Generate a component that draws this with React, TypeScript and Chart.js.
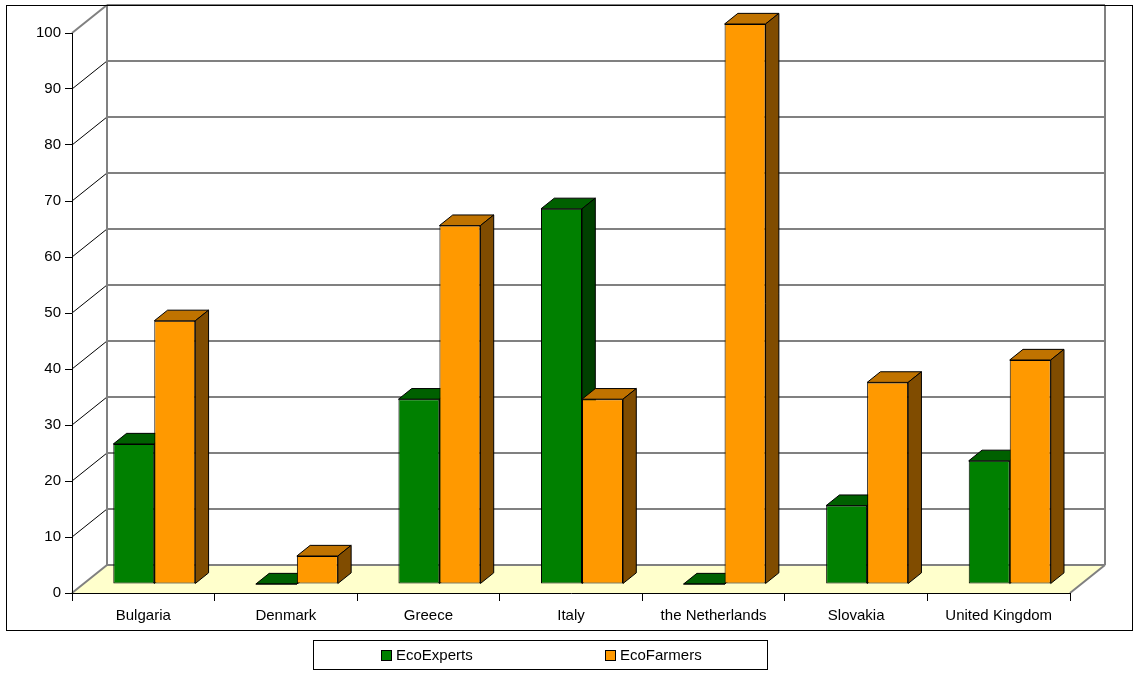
import { useEffect, useRef } from "react";
import { Chart, registerables } from "chart.js";

Chart.register(...registerables);

// Data
const countries = [
  "Bulgaria",
  "Denmark",
  "Greece",
  "Italy",
  "the Netherlands",
  "Slovakia",
  "United Kingdom",
];
const ecoExperts = [25, 0, 33, 67, 0, 14, 22];
const ecoFarmers = [47, 5, 64, 33, 100, 36, 40];
const yMin = 0;
const yMax = 100;
const yStep = 10;

const seriesLabels = ["EcoExperts", "EcoFarmers"];
const seriesFront = ["#008000", "#FF9900"];
const seriesTop = ["#006000", "#C07300"];
const seriesSide = ["#004000", "#804C00"];

// Look & layout
const FONT = "'Liberation Sans', Arial, Helvetica, sans-serif";
const FONT_SIZE = 15;
const W = 1135;
const H = 679;
const DEPTH = { x: 35, y: -28 }; // oblique depth of the plot box
const BAR_DEPTH = 0.38; // fraction of the box depth a bar occupies
const FLOOR_COLOR = "#FFFFCC";
const GRID_COLOR = "#808080";
const FRAME = { x: 6, y: 5, w: 1126, h: 625 };
const LEGEND = { x: 313, y: 640, w: 454, h: 29 };

const barShift = {
  x: Math.round((DEPTH.x * (1 - BAR_DEPTH)) / 2),
  y: Math.round((DEPTH.y * (1 - BAR_DEPTH)) / 2),
};
const barDepth = { x: DEPTH.x * BAR_DEPTH, y: DEPTH.y * BAR_DEPTH };

function polygon(
  ctx: CanvasRenderingContext2D,
  pts: number[][],
  fill: string | null,
  stroke: string | null,
  lw = 1
) {
  ctx.beginPath();
  ctx.moveTo(pts[0][0], pts[0][1]);
  for (let i = 1; i < pts.length; i++) ctx.lineTo(pts[i][0], pts[i][1]);
  ctx.closePath();
  if (fill) {
    ctx.fillStyle = fill;
    ctx.fill();
  }
  if (stroke) {
    ctx.strokeStyle = stroke;
    ctx.lineWidth = lw;
    ctx.stroke();
  }
}

function line(
  ctx: CanvasRenderingContext2D,
  x1: number,
  y1: number,
  x2: number,
  y2: number,
  color: string,
  lw: number
) {
  ctx.beginPath();
  ctx.moveTo(x1, y1);
  ctx.lineTo(x2, y2);
  ctx.strokeStyle = color;
  ctx.lineWidth = lw;
  ctx.stroke();
}

// Top and right faces of each bar of one dataset
function drawFaces(ctx: CanvasRenderingContext2D, meta: any, i: number) {
  const bx = barDepth.x;
  const by = barDepth.y;
  ctx.save();
  ctx.lineJoin = "miter";
  meta.data.forEach((el: any) => {
    const p = el.getProps(["x", "y", "base", "width"], true);
    const l = p.x - p.width / 2;
    const r = p.x + p.width / 2;
    const top = Math.min(p.y, p.base);
    const bot = Math.max(p.y, p.base);
    polygon(
      ctx,
      [
        [l, top],
        [r, top],
        [r + bx, top + by],
        [l + bx, top + by],
      ],
      seriesTop[i],
      "#000"
    );
    polygon(
      ctx,
      [
        [r, top],
        [r + bx, top + by],
        [r + bx, bot + by],
        [r, bot],
      ],
      seriesSide[i],
      "#000"
    );
    if (bot - top < 1) line(ctx, l, bot, r, bot, "#000", 1);
  });
  ctx.restore();
}

// Walls, floor, gridlines, 3D bars, legend and outer frame
const box3d = {
  id: "box3d",
  beforeDraw(chart: any) {
    const { ctx, chartArea } = chart;
    const { left, right, bottom } = chartArea;
    const ys = chart.scales.y;
    const dx = DEPTH.x;
    const dy = DEPTH.y;
    ctx.save();
    ctx.fillStyle = "#ffffff";
    ctx.fillRect(0, 0, W, H);

    // floor
    polygon(
      ctx,
      [
        [left, bottom],
        [right, bottom],
        [right + dx, bottom + dy],
        [left + dx, bottom + dy],
      ],
      FLOOR_COLOR,
      null
    );

    // back wall gridlines and side wall diagonals
    const ticks = ys.ticks.map((t: any) => t.value);
    ticks.forEach((v: number) => {
      const yy = Math.round(ys.getPixelForValue(v));
      const edge = v === yMin || v === yMax;
      line(ctx, left + dx, yy + dy, right + dx, yy + dy, GRID_COLOR, 2);
      line(ctx, left, yy, left + dx, yy + dy, edge ? GRID_COLOR : "#000", edge ? 2 : 1);
    });

    const yTop = Math.round(ys.getPixelForValue(yMax)) + dy;
    const yBot = Math.round(ys.getPixelForValue(yMin)) + dy;
    line(ctx, left + dx, yTop, left + dx, yBot, GRID_COLOR, 2);
    line(ctx, right + dx, yTop, right + dx, yBot, GRID_COLOR, 2);
    line(ctx, right, bottom, right + dx, bottom + dy, GRID_COLOR, 2);
    ctx.restore();
  },
  // bars are painted below, front to back in dataset order
  beforeDatasetDraw() {
    return false;
  },
  afterDatasetsDraw(chart: any) {
    const ctx = chart.ctx;
    ctx.save();
    ctx.translate(barShift.x, barShift.y);
    chart.data.datasets.forEach((_d: any, i: number) => {
      const meta = chart.getDatasetMeta(i);
      meta.data.forEach((el: any) => el.draw(ctx));
      drawFaces(ctx, meta, i);
    });
    ctx.restore();
  },
  afterDraw(chart: any) {
    const ctx = chart.ctx;
    ctx.save();
    // legend
    ctx.strokeStyle = "#000";
    ctx.lineWidth = 1;
    ctx.strokeRect(LEGEND.x + 0.5, LEGEND.y + 0.5, LEGEND.w, LEGEND.h);
    ctx.font = `${FONT_SIZE}px ${FONT}`;
    ctx.textBaseline = "middle";
    ctx.textAlign = "left";
    const ds = chart.data.datasets;
    const col = LEGEND.w / ds.length;
    const cy = LEGEND.y + LEGEND.h / 2 + 0.5;
    const sq = 11;
    ds.forEach((d: any) => {
      const i = ds.indexOf(d);
      const tw = ctx.measureText(d.label).width;
      const iw = sq + 4 + tw;
      const sx = Math.round(LEGEND.x + col * i + (col - iw) / 2);
      const sy = Math.round(cy - sq / 2);
      ctx.fillStyle = d.backgroundColor;
      ctx.fillRect(sx, sy, sq, sq);
      ctx.strokeStyle = "#000";
      ctx.strokeRect(sx + 0.5, sy + 0.5, sq - 1, sq - 1);
      ctx.fillStyle = "#000";
      ctx.fillText(d.label, sx + sq + 4, cy + 1);
    });
    // outer frame
    ctx.strokeStyle = "#000";
    ctx.strokeRect(FRAME.x + 0.5, FRAME.y + 0.5, FRAME.w, FRAME.h);
    ctx.restore();
  },
};

export default function App() {
  const ref = useRef<HTMLCanvasElement>(null);

  useEffect(() => {
    document.body.style.margin = "0";
    const canvas = ref.current;
    if (!canvas) return;
    const makeSet = (i: number, data: number[]) => ({
      label: seriesLabels[i],
      data,
      backgroundColor: seriesFront[i],
      borderColor: "#000",
      borderWidth: 1,
      borderSkipped: false as const,
      categoryPercentage: 0.575,
      barPercentage: 1,
      clip: false as any,
    });
    const chart = new Chart(canvas, {
      type: "bar",
      data: {
        labels: countries,
        datasets: [makeSet(0, ecoExperts), makeSet(1, ecoFarmers)],
      },
      options: {
        responsive: false,
        animation: false,
        devicePixelRatio: 1,
        events: [],
        layout: { padding: { left: 0, right: 65, top: 33, bottom: 56 } },
        plugins: {
          legend: { display: false },
          tooltip: { enabled: false },
          title: { display: false },
        },
        scales: {
          x: {
            type: "category",
            offset: true,
            grid: {
              offset: true,
              drawOnChartArea: false,
              drawTicks: true,
              tickLength: 8,
              tickColor: "#000",
              tickWidth: 1,
            },
            border: { display: true, color: "#000", width: 1 },
            ticks: {
              color: "#000",
              padding: 6,
              maxRotation: 0,
              autoSkip: false,
              font: { family: FONT, size: FONT_SIZE },
            },
            afterFit(scale: any) {
              scale.height = 30;
            },
          },
          y: {
            min: yMin,
            max: yMax,
            grid: {
              drawOnChartArea: false,
              drawTicks: true,
              tickLength: 7,
              tickColor: "#000",
              tickWidth: 1,
            },
            border: { display: true, color: "#000", width: 1 },
            ticks: {
              stepSize: yStep,
              color: "#000",
              padding: 4,
              font: { family: FONT, size: FONT_SIZE },
            },
            afterFit(scale: any) {
              scale.width = 72;
            },
          },
        },
      },
      plugins: [box3d],
    });
    return () => chart.destroy();
  }, []);

  return (
    <canvas
      ref={ref}
      width={W}
      height={H}
      style={{ display: "block", width: W, height: H }}
    />
  );
}
